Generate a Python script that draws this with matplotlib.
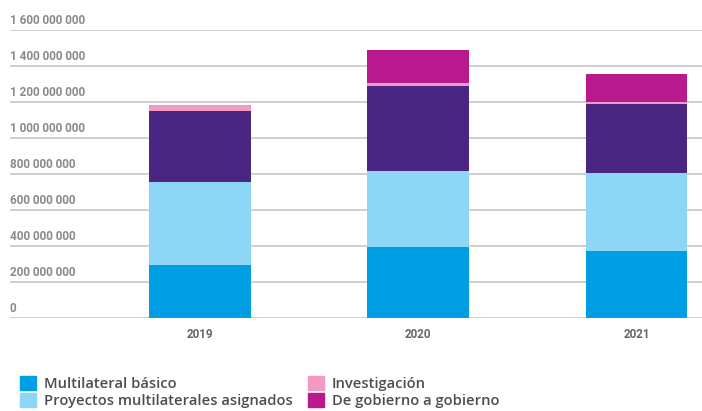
import matplotlib
matplotlib.use("Agg")
import matplotlib.pyplot as plt
import matplotlib.transforms as mtransforms
from matplotlib.patches import Patch
import numpy as np

years = ["2019", "2020", "2021"]
multilateral_basico = [294e6, 396e6, 374e6]
proyectos_multilaterales = [460e6, 422e6, 430e6]
bilateral = [394e6, 473e6, 383e6]  # purple segment
investigacion = [34e6, 13e6, 11e6]
de_gobierno_a_gobierno = [0, 187e6, 156e6]

series_names = ["Multilateral básico", "Proyectos multilaterales asignados",
                "Bilateral", "Investigación", "De gobierno a gobierno"]
colors = ["#009FE3", "#8DD6F6", "#4A2683", "#F29AC4", "#B8198C"]

yticks = [0, 200e6, 400e6, 600e6, 800e6, 1000e6, 1200e6, 1400e6, 1600e6]
ytick_labels = ["0", "200 000 000", "400 000 000", "600 000 000", "800 000 000",
                "1 000 000 000", "1 200 000 000", "1 400 000 000", "1 600 000 000"]

W, H = 702, 411
fig = plt.figure(figsize=(W / 100, H / 100), dpi=100)
ax = fig.add_axes([10 / W, (H - 318) / H, 692 / W, 288 / H])

x = np.arange(len(years))
series = [multilateral_basico, proyectos_multilaterales, bilateral,
          investigacion, de_gobierno_a_gobierno]
bottom = np.zeros(len(years))
for vals, c in zip(series, colors):
    vals = np.array(vals)
    ax.bar(x, vals, bottom=bottom, width=0.465, color=c, zorder=3, linewidth=0)
    bottom += vals

ax.set_xlim(-0.87, 2.30)
ax.set_ylim(0, 1600e6)

for v in yticks:
    ax.axhline(v, color="#cfcfcf", lw=1.4, zorder=1)

trans = mtransforms.blended_transform_factory(ax.transAxes, ax.transData)
for v, lab in zip(yticks, ytick_labels):
    ax.annotate(lab, xy=(0, v), xycoords=trans, xytext=(0, 4), textcoords="offset points",
                ha="left", va="baseline", fontsize=8.5, color="#8a8a8a",
                family="Roboto", fontweight="bold")

ax.set_yticks([])
ax.set_xticks(x)
ax.set_xticklabels(years, fontsize=8.4, color="#666666", family="Roboto", fontweight="bold")
ax.tick_params(axis="x", length=0, pad=7)
for s in ax.spines.values():
    s.set_visible(False)

legend_handles = [Patch(color=colors[0], label=series_names[0]),
                  Patch(color=colors[1], label=series_names[1]),
                  Patch(color=colors[3], label=series_names[3]),
                  Patch(color=colors[4], label=series_names[4])]
fig.legend(handles=legend_handles, ncol=2, loc="upper left",
           bbox_to_anchor=(20 / W, 1 - 376 / H), frameon=False,
           prop={"family": "Open Sans", "weight": "semibold", "size": 10.6},
           labelcolor="#4d4d4d", handlelength=1.1, handleheight=1.1,
           handletextpad=0.55, columnspacing=1.0, labelspacing=0.12,
           borderaxespad=0, borderpad=0)

fig.savefig("out.png", dpi=100)
